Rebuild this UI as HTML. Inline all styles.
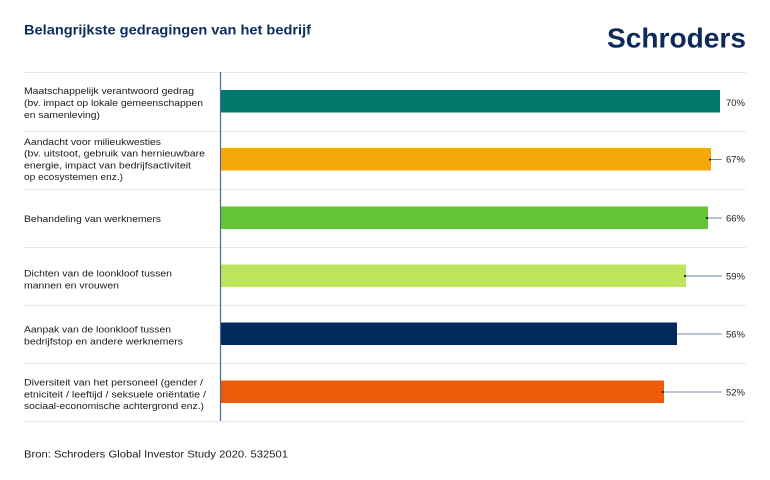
<!DOCTYPE html>
<html><head><meta charset="utf-8"><style>
html,body{margin:0;padding:0;background:#fff;}
svg{display:block;}
text{font-family:"Liberation Sans",Arial,sans-serif;}
.l{font-size:9px;fill:#1a1a1a;}
.p{font-size:9px;fill:#1a1a1a;}
</style></head><body>
<svg width="770" height="480" viewBox="0 0 770 480" xmlns="http://www.w3.org/2000/svg">
<rect width="770" height="480" fill="#fff"/>
<text x="24" y="34.5" font-size="13.5" font-weight="bold" fill="#0b2c5c" textLength="287" lengthAdjust="spacingAndGlyphs">Belangrijkste gedragingen van het bedrijf</text>
<text x="607" y="47.3" font-size="28" font-weight="bold" fill="#0d2a5b" textLength="139" lengthAdjust="spacingAndGlyphs">Schroders</text>

<g stroke="#e9e9e9" stroke-width="1">
<line x1="24" y1="72.5" x2="746" y2="72.5"/>
<line x1="24" y1="131.5" x2="746" y2="131.5"/>
<line x1="24" y1="189.5" x2="746" y2="189.5"/>
<line x1="24" y1="247.5" x2="746" y2="247.5"/>
<line x1="24" y1="305.5" x2="746" y2="305.5"/>
<line x1="24" y1="363.5" x2="746" y2="363.5"/>
<line x1="24" y1="421.5" x2="746" y2="421.5"/>
</g>

<!-- bars -->
<rect x="221" y="90" width="499" height="22.5" fill="#00786c"/>
<rect x="221" y="148" width="490" height="22.5" fill="#f5a80a"/>
<rect x="221" y="206.5" width="487" height="22.5" fill="#64c434"/>
<rect x="221" y="264.5" width="465" height="22.5" fill="#bde45a"/>
<rect x="221" y="322.5" width="456" height="22.5" fill="#002a5c"/>
<rect x="221" y="380.5" width="443" height="22.5" fill="#ec5a0a"/>

<!-- leaders -->
<g stroke="#6e85a5" stroke-width="1">
<line x1="710" y1="159.5" x2="722" y2="159.5"/>
<line x1="707" y1="218" x2="722" y2="218"/>
<line x1="685" y1="276" x2="722" y2="276"/>
</g>
<g stroke="#bcc7d6" stroke-width="2">
<line x1="677" y1="334" x2="722" y2="334"/>
<line x1="663" y1="392" x2="722" y2="392"/>
</g>
<g fill="#0b2548">
<circle cx="710" cy="159.5" r="1.1"/>
<circle cx="707" cy="218" r="1.1"/>
<circle cx="685" cy="276" r="1.1"/>
<circle cx="663" cy="392" r="1.1"/>
</g>

<line x1="220.5" y1="72" x2="220.5" y2="421" stroke="#4a6a9c" stroke-width="1.2"/>

<!-- percent labels -->
<text class="p" x="726" y="106" textLength="19" lengthAdjust="spacingAndGlyphs">70%</text>
<text class="p" x="726" y="162.5" textLength="19" lengthAdjust="spacingAndGlyphs">67%</text>
<text class="p" x="726" y="221.3" textLength="19" lengthAdjust="spacingAndGlyphs">66%</text>
<text class="p" x="726" y="279.3" textLength="19" lengthAdjust="spacingAndGlyphs">59%</text>
<text class="p" x="726" y="337.3" textLength="19" lengthAdjust="spacingAndGlyphs">56%</text>
<text class="p" x="726" y="395.3" textLength="19" lengthAdjust="spacingAndGlyphs">52%</text>

<!-- left labels -->
<text class="l" x="24" y="94" textLength="170" lengthAdjust="spacingAndGlyphs">Maatschappelijk verantwoord gedrag</text>
<text class="l" x="24" y="106" textLength="179" lengthAdjust="spacingAndGlyphs">(bv. impact op lokale gemeenschappen</text>
<text class="l" x="24" y="118" textLength="76" lengthAdjust="spacingAndGlyphs">en samenleving)</text>

<text class="l" x="24" y="145" textLength="137" lengthAdjust="spacingAndGlyphs">Aandacht voor milieukwesties</text>
<text class="l" x="24" y="156.7" textLength="181" lengthAdjust="spacingAndGlyphs">(bv. uitstoot, gebruik van hernieuwbare</text>
<text class="l" x="24" y="168.4" textLength="167" lengthAdjust="spacingAndGlyphs">energie, impact van bedrijfsactiviteit</text>
<text class="l" x="24" y="180" textLength="99" lengthAdjust="spacingAndGlyphs">op ecosystemen enz.)</text>

<text class="l" x="24" y="222" textLength="137" lengthAdjust="spacingAndGlyphs">Behandeling van werknemers</text>

<text class="l" x="24" y="276.5" textLength="148" lengthAdjust="spacingAndGlyphs">Dichten van de loonkloof tussen</text>
<text class="l" x="24" y="288.3" textLength="95" lengthAdjust="spacingAndGlyphs">mannen en vrouwen</text>

<text class="l" x="24" y="332.3" textLength="147" lengthAdjust="spacingAndGlyphs">Aanpak van de loonkloof tussen</text>
<text class="l" x="24" y="344.3" textLength="159" lengthAdjust="spacingAndGlyphs">bedrijfstop en andere werknemers</text>

<text class="l" x="24" y="385.3" textLength="179" lengthAdjust="spacingAndGlyphs">Diversiteit van het personeel (gender /</text>
<text class="l" x="24" y="397.3" textLength="182" lengthAdjust="spacingAndGlyphs">etniciteit / leeftijd / seksuele oriëntatie /</text>
<text class="l" x="24" y="409.2" textLength="180" lengthAdjust="spacingAndGlyphs">sociaal-economische achtergrond enz.)</text>

<text x="24" y="457.5" font-size="10.5" fill="#1a1a1a" textLength="264" lengthAdjust="spacingAndGlyphs">Bron:  Schroders Global Investor Study 2020. 532501</text>
</svg>
</body></html>
